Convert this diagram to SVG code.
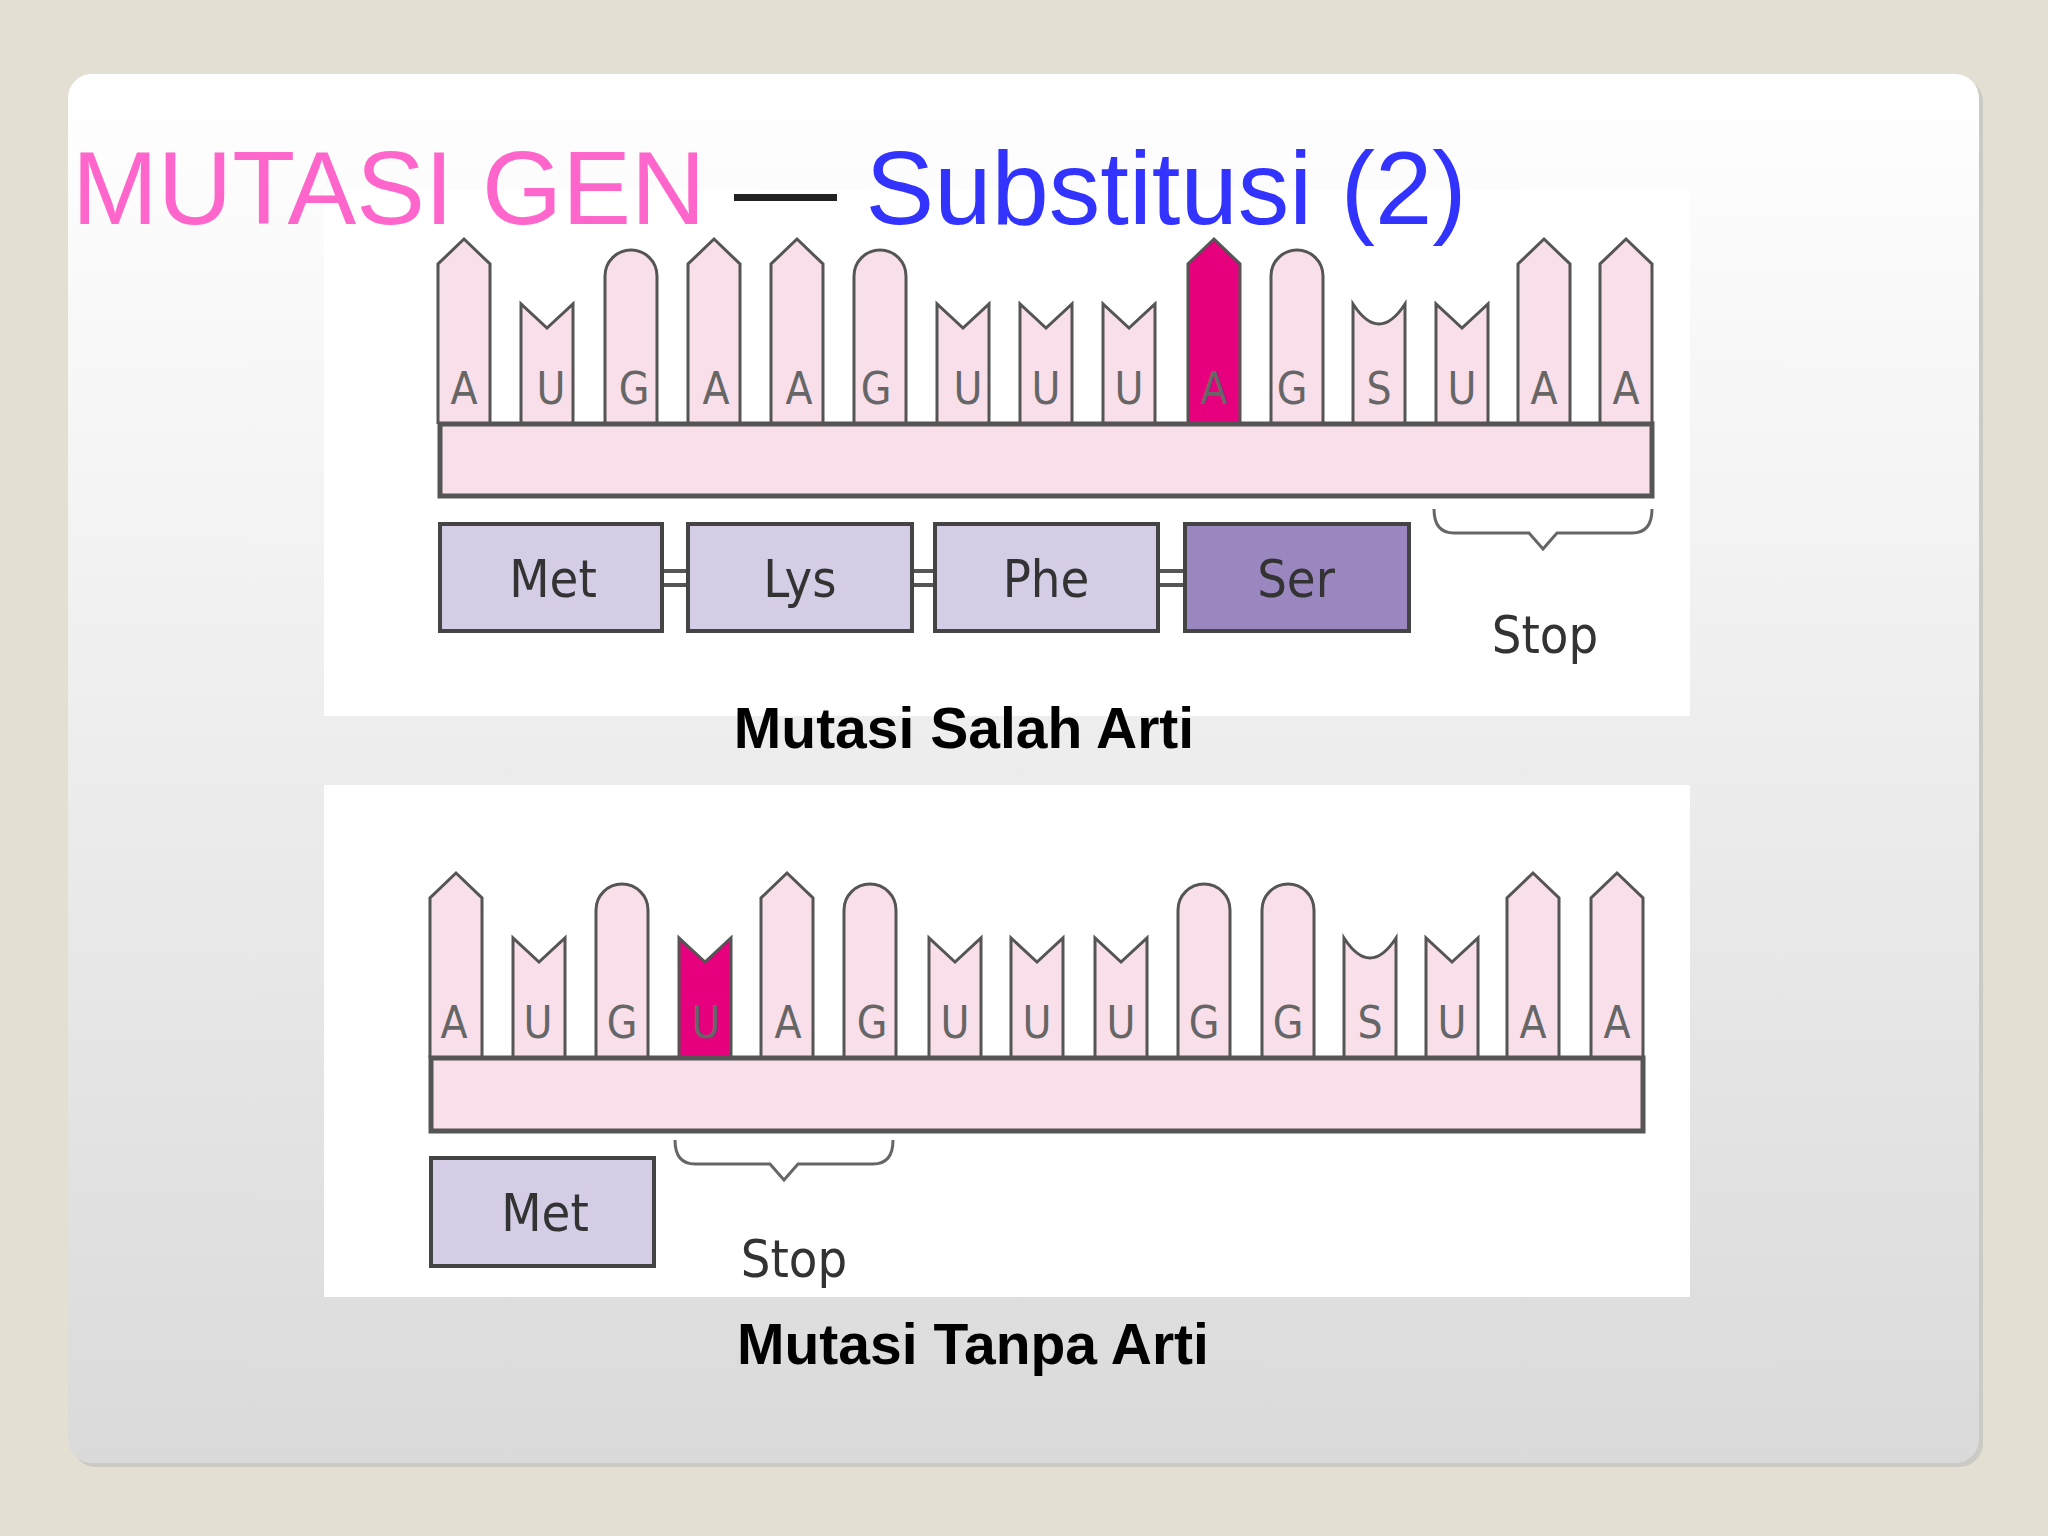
<svg xmlns="http://www.w3.org/2000/svg" xmlns:xlink="http://www.w3.org/1999/xlink" width="2048" height="1536" viewBox="0 0 2048 1536">
<defs>
<linearGradient id="card" x1="0" y1="0" x2="0" y2="1"><stop offset="0" stop-color="#ffffff"/><stop offset="1" stop-color="#dadada"/></linearGradient>
<path id="pA" d="M-26,0 V-160 L0,-185 L26,-160 V0"/>
<path id="pU" d="M-26,0 V-120 L0,-96 L26,-120 V0"/>
<path id="pG" d="M-26,0 V-148 A26,26 0 0 1 26,-148 V0"/>
<path id="pS" d="M-26,0 V-120 Q0,-80 26,-120 V0"/>
<path id="brace" d="M0,0 Q0,24 20,24 H95 L109,40 L123,24 H198 Q218,24 218,0"/>
</defs>
<style>
.peg{fill:#f9dfea;stroke:#555;stroke-width:3}
.mut{fill:#e6007e;stroke:#555;stroke-width:3}
.nt{font-family:"DejaVu Sans Condensed","DejaVu Sans",sans-serif;font-size:44px;fill:#666;text-anchor:middle}
.bb{fill:#f9dfea;stroke:#555;stroke-width:5}
.aa{fill:#d5cce5;stroke:#444;stroke-width:4}
.aat{font-family:"DejaVu Sans Condensed","DejaVu Sans",sans-serif;font-size:52px;fill:#333;text-anchor:middle}
.br{fill:none;stroke:#666;stroke-width:3}
.cap{font-family:"Liberation Sans",Arial,sans-serif;font-weight:bold;font-size:57px;fill:#000;text-anchor:middle}
</style>
<rect width="2048" height="1536" fill="#e3e0d3"/>
<rect x="72" y="78" width="1911" height="1389" rx="24" fill="#bbb" opacity="0.6"/>
<rect x="68" y="74" width="1911" height="1389" rx="24" fill="url(#card)"/>
<rect x="324" y="189" width="1366" height="527" fill="#fff"/>
<rect x="324" y="785" width="1366" height="512" fill="#fff"/>

<g id="row1" transform="translate(0,424)">
<use href="#pA" x="464" class="peg"/><use href="#pU" x="547" class="peg"/><use href="#pG" x="631" class="peg"/>
<use href="#pA" x="714" class="peg"/><use href="#pA" x="797" class="peg"/><use href="#pG" x="880" class="peg"/>
<use href="#pU" x="963" class="peg"/><use href="#pU" x="1046" class="peg"/><use href="#pU" x="1129" class="peg"/>
<use href="#pA" x="1214" class="mut"/><use href="#pG" x="1297" class="peg"/><use href="#pS" x="1379" class="peg"/>
<use href="#pU" x="1462" class="peg"/><use href="#pA" x="1544" class="peg"/><use href="#pA" x="1626" class="peg"/>
<g class="nt">
<text x="464" y="-20">A</text><text x="551" y="-20">U</text><text x="634" y="-20">G</text><text x="716" y="-20">A</text><text x="799" y="-20">A</text><text x="876" y="-20">G</text><text x="968" y="-20">U</text><text x="1046" y="-20">U</text><text x="1129" y="-20">U</text><text x="1214" y="-20">A</text><text x="1292" y="-20">G</text><text x="1379" y="-20">S</text><text x="1462" y="-20">U</text><text x="1544" y="-20">A</text><text x="1626" y="-20">A</text>
</g>
<rect x="440" y="0" width="1212" height="72" class="bb"/>
</g>
<g id="aa1">
<path d="M662,571 H688 M662,585 H688 M912,571 H935 M912,585 H935 M1158,571 H1185 M1158,585 H1185" stroke="#555" stroke-width="4"/>
<rect x="440" y="524" width="222" height="107" class="aa"/><text x="553" y="597" class="aat">Met</text>
<rect x="688" y="524" width="224" height="107" class="aa"/><text x="800" y="597" class="aat">Lys</text>
<rect x="935" y="524" width="223" height="107" class="aa"/><text x="1046" y="597" class="aat">Phe</text>
<rect x="1185" y="524" width="224" height="107" fill="#9b87bf" stroke="#444" stroke-width="4"/><text x="1296" y="597" class="aat">Ser</text>
<use href="#brace" x="1434" y="509" class="br"/>
<text x="1545" y="653" class="aat" fill="#444">Stop</text>
</g>

<g id="row2" transform="translate(0,1058)">
<use href="#pA" x="456" class="peg"/><use href="#pU" x="539" class="peg"/><use href="#pG" x="622" class="peg"/>
<use href="#pU" x="705" class="mut"/><use href="#pA" x="787" class="peg"/><use href="#pG" x="870" class="peg"/>
<use href="#pU" x="955" class="peg"/><use href="#pU" x="1037" class="peg"/><use href="#pU" x="1121" class="peg"/>
<use href="#pG" x="1204" class="peg"/><use href="#pG" x="1288" class="peg"/><use href="#pS" x="1370" class="peg"/>
<use href="#pU" x="1452" class="peg"/><use href="#pA" x="1533" class="peg"/><use href="#pA" x="1617" class="peg"/>
<g class="nt">
<text x="454" y="-20">A</text><text x="538" y="-20">U</text><text x="622" y="-20">G</text><text x="706" y="-20">U</text><text x="788" y="-20">A</text><text x="872" y="-20">G</text><text x="955" y="-20">U</text><text x="1037" y="-20">U</text><text x="1121" y="-20">U</text><text x="1204" y="-20">G</text><text x="1288" y="-20">G</text><text x="1370" y="-20">S</text><text x="1452" y="-20">U</text><text x="1533" y="-20">A</text><text x="1617" y="-20">A</text>
</g>
<rect x="431" y="0" width="1212" height="73" class="bb"/>
</g>
<g id="aa2">
<rect x="431" y="1158" width="223" height="108" class="aa"/><text x="545" y="1231" class="aat">Met</text>
<use href="#brace" x="675" y="1140" class="br"/>
<text x="794" y="1277" class="aat" fill="#444">Stop</text>
</g>

<text x="72" y="224" font-family="Liberation Sans,Arial,sans-serif" font-size="103"><tspan fill="#ff66cc">MUTASI GEN</tspan><tspan fill="#222"> — </tspan><tspan fill="#3333ff">Substitusi (2)</tspan></text>
<text x="964" y="748" class="cap">Mutasi Salah Arti</text>
<text x="973" y="1364" class="cap">Mutasi Tanpa Arti</text>
</svg>
